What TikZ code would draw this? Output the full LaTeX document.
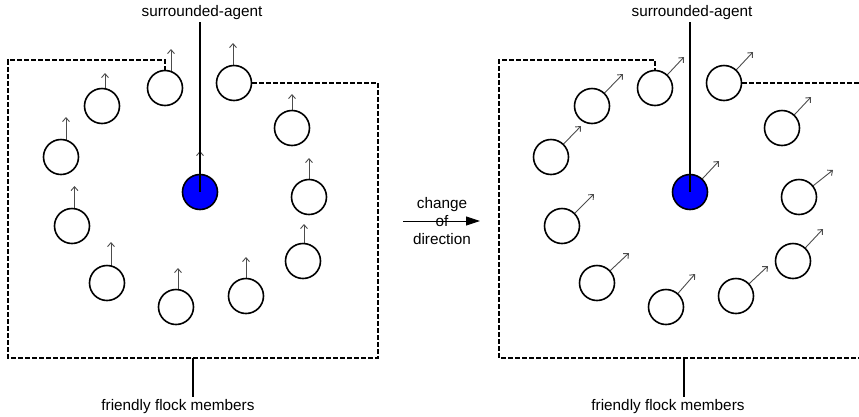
\documentclass[tikz,border=0pt]{standalone}
\usepackage{fontspec}
\setmainfont{Liberation Sans}
\usetikzlibrary{arrows.meta,calc,backgrounds}
\tikzset{
  agentc/.style={circle,draw=black,line width=1.6pt,fill=white,minimum size=35pt,inner sep=0pt},
  agentblue/.style={agentc,fill=blue},
  headarr/.style={draw=black!70,line width=0.9pt,-{Straight Barb[length=4pt,width=7pt]}},
  flockline/.style={draw=black,line width=1.6pt,dash pattern=on 5pt off 2pt},
  ptrline/.style={draw=black,line width=1.8pt},
  lbltext/.style={font=\fontsize{15.3}{17.6}\selectfont,inner sep=0pt,align=center},
  changearr/.style={draw=black,line width=0.9pt,-{Triangle[length=14pt,width=9pt]}},
}
\begin{document}
\begin{tikzpicture}[x=1pt,y=-1pt]
\useasboundingbox (0,0) rectangle (859,416);
\clip (0,0) rectangle (859,416);

% agents
\foreach \n/\cx/\cy in {1/165/88,2/102/106,3/61/157,4/72/226,5/107/283,6/176/307,7/246/296,8/303/261,9/309/197,10/292/128,11/234/83} {
  \node[agentc] (L\n) at (\cx,\cy) {};
  \node[agentc] (R\n) at (\cx+490,\cy) {};
}
\node[agentblue] (Lb) at (200,192) {};
\node[agentblue] (Rb) at (690,192) {};

% headings (under the agents)
\begin{pgfonlayer}{background}
\foreach \n/\dx/\len in {1/6/39,2/3/33,3/5/40,4/2.5/40,5/4/41,6/2/39,7/0/39,8/1/37,9/0/39,10/0/34,11/-1/40,b/0/41} {
  \draw[headarr] ($(L\n.center)+(\dx,0)$) -- ++(0,-\len);
}
\foreach \n/\tx/\ty in {1/29/-31,2/31/-32,3/30/-31,4/32/-32,5/32/-30,6/29/-33,7/32/-30,8/30/-32,9/34/-27,10/29/-31,11/29/-31,b/29/-31} {
  \draw[headarr] (R\n.center) -- ++(\tx,\ty);
}
\end{pgfonlayer}

% flock boundaries
\coordinate (LA) at (378,358);
\coordinate (LB) at (8,60);
\draw[flockline] (L11.east) -| (LA) -| (LB) -| (L1.north);
\coordinate (RA) at (868,358);
\coordinate (RB) at (499,60);
\draw[flockline] (R11.east) -| (RA) -| (RB) -| (R1.north);

% labels
\node[lbltext] (Ltop) at (202,13) {surrounded-agent};
\node[lbltext] (Rtop) at (692,13) {surrounded-agent};
\draw[ptrline,shorten >=2pt] (Lb.center) -- (Lb.center |- Ltop.south);
\draw[ptrline,shorten >=2pt] (Rb.center) -- (Rb.center |- Rtop.south);

\node[lbltext] (Lbot) at (178,407) {friendly flock members};
\node[lbltext] (Rbot) at (668,407) {friendly flock members};
\coordinate (LF) at (193,358);
\coordinate (RF) at (684,358);
\draw[ptrline,shorten >=3pt] (LF) -- (LF |- Lbot.north);
\draw[ptrline,shorten >=3pt] (RF) -- (RF |- Rbot.north);

% change of direction
\coordinate (ML) at (403,221);
\coordinate (MR) at (480,221);
\draw[changearr] (ML) -- (MR);
\node[lbltext] (chg) at (442,221) {change\\of\\direction};
\end{tikzpicture}
\end{document}
